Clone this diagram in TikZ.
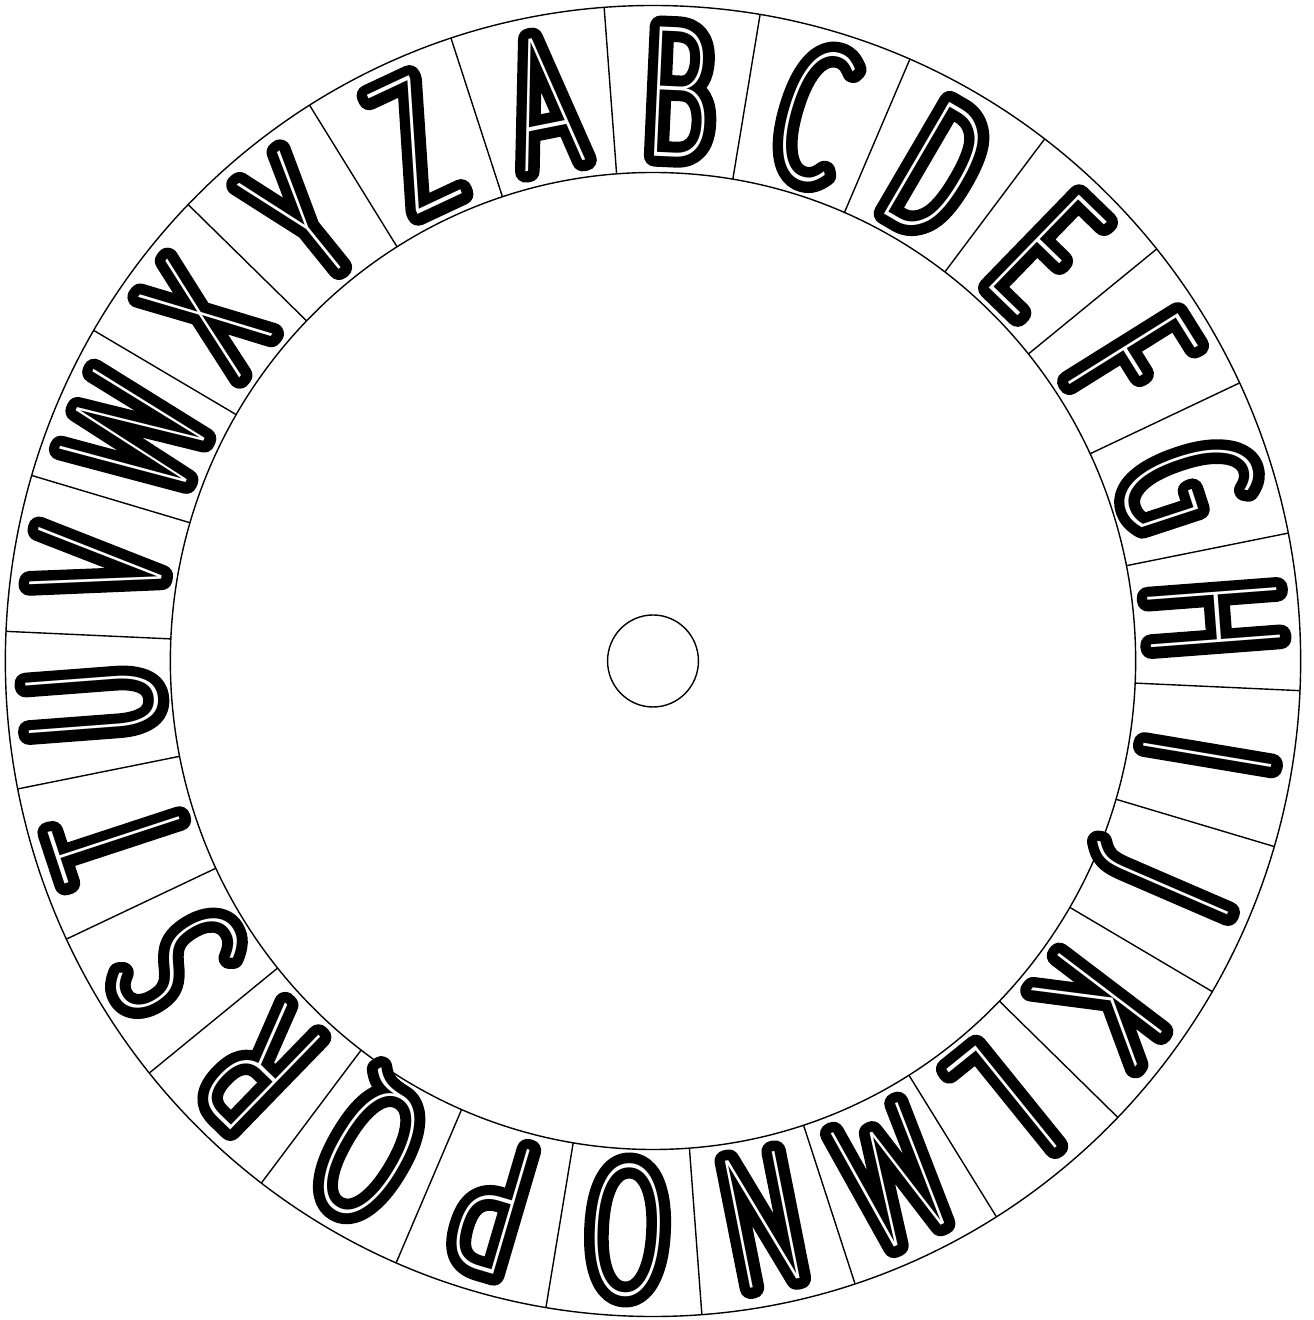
\documentclass[tikz,border=0pt]{standalone}
\usepackage{fontspec}
\IfFontExistsTF{Fira Sans Thin}{\newcommand\thinname{Fira Sans Thin}}{%
  \IfFontExistsTF{Lato Hairline}{\newcommand\thinname{Lato Hairline}}{%
    \IfFontExistsTF{Fira Sans Light}{\newcommand\thinname{Fira Sans Light}}{%
      \newcommand\thinname{Liberation Sans}}}}
\newfontfamily\thinf{\thinname}[FakeStretch=0.64]
\newfontfamily\boldf{\thinname}[FakeStretch=0.64,FakeBold=11.5]
\begin{document}
\begin{tikzpicture}[x=0.494pt,y=0.5pt,line join=round,
  ring/.style={draw=black,line width=0.7pt},
  letter/.style={inner sep=0pt,text height=66.1pt,text depth=0pt,
    font=\fontsize{95}{95}\selectfont}]
\useasboundingbox (-326.5pt,-329.5pt) rectangle (330pt,330.5pt);
\draw[ring] (0,0) circle [radius=655.5];
\draw[ring] (0,0) circle [radius=488.5];
\draw[ring] (0,0) circle [radius=46];
\foreach \k in {0,...,25}{
  \draw[ring] ({108.173-13.846*\k}:488.5) -- ({108.173-13.846*\k}:655.5);
}
\foreach \L [count=\i from 0] in {A,B,C,D,E,F,G,H,I,J,K,L,M,N,O,P,Q,R,S,T,U,V,W,X,Y,Z}{
  \node[letter,rotate={11.25-13.846*\i}] (L\L) at ({101.25-13.846*\i}:571)
    {\rlap{\boldf\L}{\color{white}\thinf\L}};
}
\end{tikzpicture}
\end{document}
